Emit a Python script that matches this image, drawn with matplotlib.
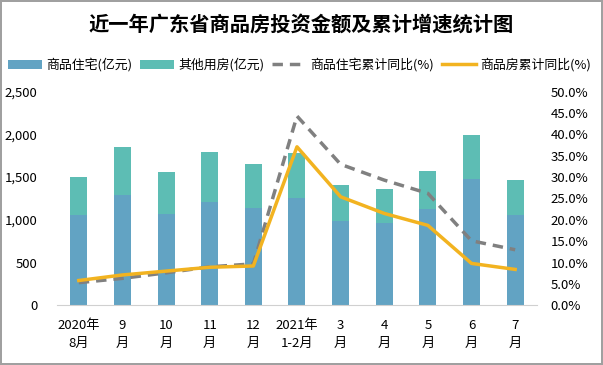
import matplotlib
matplotlib.use("Agg")
import matplotlib.pyplot as plt
import numpy as np
from matplotlib.ticker import FuncFormatter, MultipleLocator

plt.rcParams['font.family'] = ['Noto Sans CJK SC', 'DejaVu Sans']

categories = ["2020年\n8月", "9\n月", "10\n月", "11\n月", "12\n月", "2021年\n1-2月",
              "3\n月", "4\n月", "5\n月", "6\n月", "7\n月"]
residential = [1057, 1291, 1069, 1209, 1139, 1256, 987, 963, 1127, 1478, 1057]
total = [1502, 1853, 1560, 1794, 1654, 1783, 1408, 1361, 1572, 1993, 1467]
other = [t - r for t, r in zip(total, residential)]
res_growth = [5.3, 6.3, 7.6, 9.0, 9.7, 44.3, 33.0, 29.3, 26.2, 15.1, 13.0]
all_growth = [5.8, 7.1, 8.0, 8.9, 9.2, 37.1, 25.4, 21.5, 18.7, 9.8, 8.4]

c_res = "#62a3c3"
c_oth = "#5dbdb4"
c_gray = "#808080"
c_gold = "#f2b320"

fig = plt.figure(figsize=(6.03, 3.65), dpi=100)
fig.patch.set_edgecolor("#a0a0a0")
fig.patch.set_linewidth(1.5)
ax = fig.add_axes([0.0945, 0.1636, 0.796, 0.5852])
x = np.arange(len(categories))
b1 = ax.bar(x, residential, width=0.39, color=c_res, label="商品住宅(亿元)", zorder=2)
b2 = ax.bar(x, other, bottom=residential, width=0.39, color=c_oth, label="其他用房(亿元)", zorder=2)
ax.set_xlim(-0.5, len(categories) - 0.5)
ax.set_ylim(0, 2500)
ax.yaxis.set_major_locator(MultipleLocator(500))
ax.yaxis.set_major_formatter(FuncFormatter(lambda v, p: f"{int(v):,}"))
for s in ["top", "right", "left"]:
    ax.spines[s].set_visible(False)
ax.spines["bottom"].set_color("#d0d0d0")
ax.tick_params(axis="both", length=0, labelsize=9.5)
ax.tick_params(axis="y", pad=14)
ax.set_xticks(x)
ax.set_xticklabels(categories, fontsize=9.5, linespacing=1.5)
ax.tick_params(axis="x", pad=10)

ax2 = ax.twinx()
l1, = ax2.plot(x, res_growth, color=c_gray, linestyle=(0, (3, 2)), linewidth=2.5, label="商品住宅累计同比(%)", zorder=3)
l2, = ax2.plot(x, all_growth, color=c_gold, linewidth=2.5, label="商品房累计同比(%)", zorder=4)
ax2.set_ylim(0, 50)
ax2.yaxis.set_major_locator(MultipleLocator(5))
ax2.yaxis.set_major_formatter(FuncFormatter(lambda v, p: f"{v:.1f}%"))
for s in ["top", "right", "left", "bottom"]:
    ax2.spines[s].set_visible(False)
ax2.tick_params(axis="y", length=0, labelsize=9.5, pad=10)

fig.text(0.5, 0.934, "近一年广东省商品房投资金额及累计增速统计图", ha="center", va="center",
         fontsize=14.6, fontweight="bold")
fig.legend(handles=[b1, b2, l1, l2], loc="center", bbox_to_anchor=(0.497, 0.822), ncol=4,
           frameon=False, fontsize=9.3, handlelength=2.6, columnspacing=0.6, handletextpad=0.35,
           borderpad=0.2, borderaxespad=0)

fig.savefig("out.png", dpi=100)
